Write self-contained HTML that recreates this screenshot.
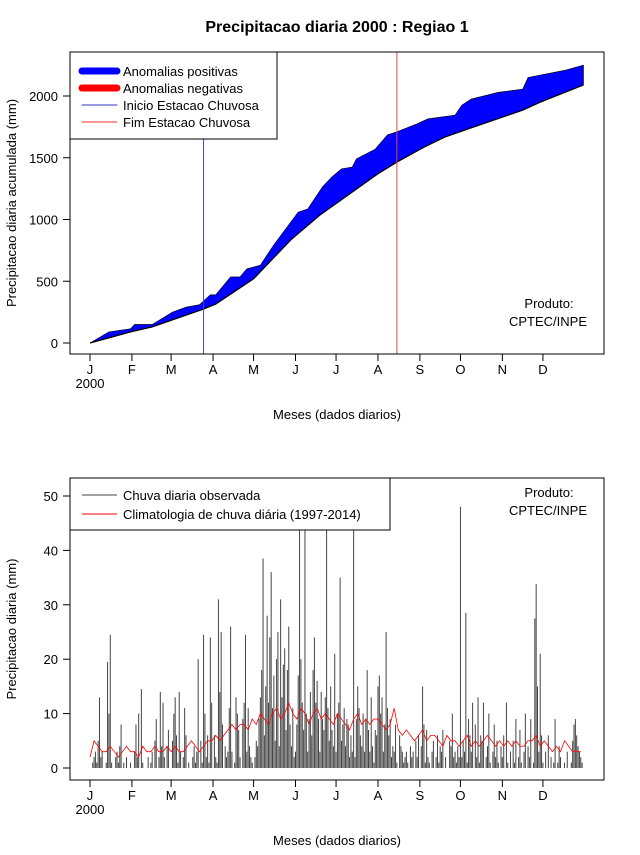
<!DOCTYPE html>
<html><head><meta charset="utf-8"><style>
body{margin:0;background:#fff}
svg{font-family:"Liberation Sans",sans-serif}
</style></head><body>
<svg id="c" width="640" height="850" xmlns="http://www.w3.org/2000/svg"></svg>
<script>
const months=["J","F","M","A","M","J","J","A","S","O","N","D"];
const monthStartDays=[0,31,60,91,121,152,182,213,244,274,305,335];
const obsDays=[0,14,30,33,46,61,71,81,89,93,104,111,116,126,136,154,161,172,179,186,194,197,211,220,227,242,250,270,275,282,302,320,324,338,352,365];
const cumObs=[0,90,115,150,150,250,290,310,390,390,535,535,600,630,795,1060,1085,1265,1345,1410,1425,1490,1570,1685,1710,1775,1815,1845,1925,1975,2030,2055,2150,2180,2210,2250];
const climDays=[0,30,46,84,93,121,149,170,213,227,247,263,288,320,333,365];
const cumClim=[0,90,130,275,315,520,840,1035,1370,1465,1585,1670,1765,1885,1950,2090];
const rainStartDay=84;
const rainEndDay=227;
const topYTicks=[0,500,1000,1500,2000];
const botYTicks=[0,10,20,30,40,50];
const dailyObs=[
0,0,1,2,3,1,5,13,2,3,0,0,1,19.5,10,24.5,1,0,0,2,3,1,4,8,0,1,0,2,0,0,1,
0,0,3,8,2,10,0,14.5,1,0,0,0,2,0,1,3,0,5,9,0,2,14,4,12,2,0,4,7,0,
0,5,10,13,6,1,14,3,0,2,11,6,0,1,0,0,2,4,1,3,20,0,5,1,24.5,10,2,6,1,24,12,
0,6,2,1,31,14,25,8,0,4,2,3,11,26,3,0,1,13,10,7,2,0,9,12,24.5,3,11,4,2,1,
0,2,5,4,9,13,18,38.5,6,15,28,12,24,36,11,17,5,20,25,4,31,13,19,22,7,18,26,8,4,11,2,
3,8,17,45,20,12,7,60,10,3,9,14,6,18,24,12,16,9,3,14,9,7,13,60,11,5,15,7,4,21,
3,10,12,35,5,8,11,4,9,8,2,6,3,44,2,9,15,11,6,4,10,3,9,18,7,3,13,4,1,7,6,
15,17,10,13,3,8,25,11,6,9,2,4,3,8,1,0,6,4,3,1,2,3,1,0,4,2,3,0,5,2,6,
0,4,15,8,1,7,2,1,0,3,5,0,2,6,1,4,3,7,0,2,0,0,5,4,10,2,3,1,4,2,
48,2,5,3,28.5,1,9,6,3,12,0,8,2,13,1,6,5,12,0,2,4,10,1,0,3,8,2,5,1,0,4,
2,6,0,12,1,0,3,0,5,1,9,0,2,7,1,0,3,10,0,4,2,9,0,1,27.5,33.8,15,3,21,6,
1,0,3,0,6,0,2,0,1,9,0,1,4,2,0,0,1,0,3,0,0,1,5,8,9,6,4,3,2,1,0];
const climStep=3;
const dailyClim=[2,5,4,3,3,4,3,2,3,4,3,3,2,4,3,3,4,3,3,4,3,4,3,3,4,5,4,3,4,5,
5,6,5,6,7,8,7,8,8,7,9,8,10,9,8,10,11,9,10,12,10,9,11,10,8,10,11,9,10,9,8,10,9,8,7,9,10,8,9,8,9,
9,8,7,8,11,7,6,7,6,5,6,7,5,6,6,5,4,6,5,5,
4,5,6,4,5,4,5,6,5,4,5,4,5,4,5,4,4,5,5,6,4,5,4,3,4,3,5,4,3,3,3];

const S=document.getElementById('c');const NS="http://www.w3.org/2000/svg";
function mk(t,a,txt){const e=document.createElementNS(NS,t);for(const k in a)e.setAttribute(k,a[k]);if(txt!==undefined)e.textContent=txt;S.appendChild(e);return e;}
const xd=d=>90+d*1.352;
const yTop=v=>343-v*0.1235;
const yBot=v=>768-v*5.44;
const L=70,R=604;

let e=mk('text',{x:337,y:32,'text-anchor':'middle','font-size':16,'font-weight':'bold'},'Precipitacao diaria 2000 : Regiao 1');



let up=obsDays.map((d,i)=>xd(d)+','+yTop(cumObs[i]));
let dn=climDays.map((d,i)=>xd(d)+','+yTop(cumClim[i])).reverse();
e=mk('polygon',{points:up.concat(dn).join(' '),fill:'#0000ff',stroke:'#000','stroke-width':0.6});


e=mk('polyline',{points:climDays.map((d,i)=>xd(d)+','+yTop(cumClim[i])).join(' '),fill:'none',stroke:'#000','stroke-width':1.2});


e=mk('line',{x1:xd(rainStartDay),x2:xd(rainStartDay),y1:52,y2:354,stroke:'#4444cc','stroke-width':1});


e=mk('line',{x1:xd(rainEndDay),x2:xd(rainEndDay),y1:52,y2:354,stroke:'#ee4444','stroke-width':1});



dailyObs.forEach((v,i)=>{if(v<=0)return;const b=mk('line',{x1:xd(i),x2:xd(i),y1:768,y2:Math.max(478,yBot(v)),stroke:'#444','stroke-width':1});

});
e=mk('polyline',{points:dailyClim.map((v,i)=>xd(i*climStep)+','+yBot(v)).join(' '),fill:'none',stroke:'#ff0000','stroke-width':0.8});



function frame(top,bot,yfn,ticks,ylab,name){
  let f=mk('rect',{x:L,y:top,width:R-L,height:bot-top,fill:'none',stroke:'#000'});
  
  
  ticks.forEach(t=>{const y=yfn(t);mk('line',{x1:63,x2:L,y1:y,y2:y,stroke:'#000'});
    const tx=mk('text',{x:58,y:y+5,'text-anchor':'end','font-size':13},t);
    
    });
  monthStartDays.forEach((d,i)=>{const x=xd(d);mk('line',{x1:x,x2:x,y1:bot,y2:bot+7,stroke:'#000'});
    const tx=mk('text',{x:x,y:bot+20,'text-anchor':'middle','font-size':13},months[i]);
    
    });
  mk('line',{x1:xd(0),x2:xd(335),y1:bot,y2:bot,stroke:'#000'});
  const yr=mk('text',{x:90,y:bot+34,'text-anchor':'middle','font-size':13},'2000');
  
  
  const xt=mk('text',{x:337,y:bot+65,'text-anchor':'middle','font-size':13},'Meses (dados diarios)');
  
  
  const cy=(top+bot)/2;
  const yt=mk('text',{x:16,y:cy,'text-anchor':'middle','font-size':13,transform:`rotate(-90 16 ${cy})`},ylab);
  
  
}
frame(52,354,yTop,topYTicks,'Precipitacao diaria acumulada (mm)','top-chart');
frame(478,780,yBot,botYTicks,'Precipitacao diaria (mm)','bottom-chart');

function credit(y){const a=mk('text',{x:549,y:y,'text-anchor':'middle','font-size':13},'Produto:');


const b=mk('text',{x:548,y:y+18,'text-anchor':'middle','font-size':13},'CPTEC/INPE');

}
credit(308);credit(497);

e=mk('rect',{x:70,y:52,width:207,height:87,fill:'#fff',stroke:'#000'});


[['#0000ff',7,'Anomalias positivas'],['#ff0000',7,'Anomalias negativas'],['#3333bb',1,'Inicio Estacao Chuvosa'],['#ee3333',1,'Fim Estacao Chuvosa']].forEach((it,i)=>{
  const y=71+i*17;mk('line',{x1:82,x2:117,y1:y,y2:y,stroke:it[0],'stroke-width':it[1],'stroke-linecap':'round'});
  const t=mk('text',{x:123,y:y+5,'font-size':13},it[2]);
  
  });
e=mk('rect',{x:70,y:478,width:320,height:52,fill:'#fff',stroke:'#000'});


[['#444','Chuva diaria observada'],['#ff0000','Climatologia de chuva diária (1997-2014)']].forEach((it,i)=>{
  const y=495+i*19;mk('line',{x1:82,x2:117,y1:y,y2:y,stroke:it[0],'stroke-width':1});
  const t=mk('text',{x:123,y:y+5,'font-size':13},it[1]);
  
  });
</script>
</body></html>
